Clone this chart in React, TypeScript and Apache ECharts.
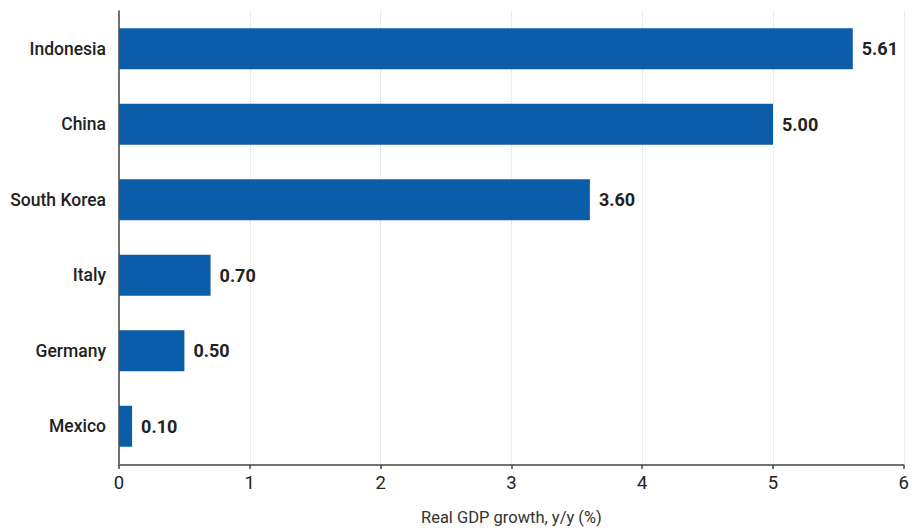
import React, { useEffect, useRef } from "react";
import * as echarts from "echarts";

const countries = ["Indonesia", "China", "South Korea", "Italy", "Germany", "Mexico"];
const growth = [5.61, 5.0, 3.6, 0.7, 0.5, 0.1];
const axisName = "Real GDP growth, y/y (%)";

export default function App() {
  const ref = useRef<HTMLDivElement>(null);
  useEffect(() => {
    if (!ref.current) return;
    const chart = echarts.init(ref.current, undefined, { renderer: "svg" });
    chart.setOption({
      animation: false,
      backgroundColor: "#ffffff",
      textStyle: { fontFamily: "Roboto" },
      grid: { left: 119, right: 7, top: 11, bottom: 65, containLabel: false },
      xAxis: {
        type: "value",
        min: 0,
        max: 6,
        interval: 1,
        offset: 1,
        name: axisName,
        nameLocation: "middle",
        nameGap: 44,
        nameTextStyle: { fontSize: 16.5, color: "#333", fontFamily: "Roboto" },
        axisLine: { show: true, lineStyle: { color: "#444", width: 1.5 } },
        axisTick: { show: true, length: 4, lineStyle: { color: "#444", width: 1.5 } },
        axisLabel: { fontSize: 18.5, color: "#222", margin: 8, fontFamily: "Roboto" },
        splitLine: { show: true, lineStyle: { type: "dotted", color: "#d8d8d8", width: 1 } },
      },
      yAxis: {
        type: "category",
        data: countries,
        inverse: true,
        axisLine: { show: true, lineStyle: { color: "#444", width: 1.5 } },
        axisTick: { show: false },
        axisLabel: { fontSize: 17.5, fontWeight: 500, color: "#222", margin: 13, fontFamily: "Roboto" },
      },
      series: [
        {
          type: "bar",
          data: growth,
          barWidth: 41,
          itemStyle: { color: "#0b5ca9" },
          label: {
            show: true,
            position: "right",
            distance: 9,
            formatter: (p: any) => Number(p.value).toFixed(2),
            fontSize: 18,
            fontWeight: "bold",
            color: "#222",
            fontFamily: "Roboto",
          },
        },
      ],
    });
    return () => chart.dispose();
  }, []);
  return <div ref={ref} style={{ width: 912, height: 531, position: "absolute", left: 0, top: 0 }} />;
}
